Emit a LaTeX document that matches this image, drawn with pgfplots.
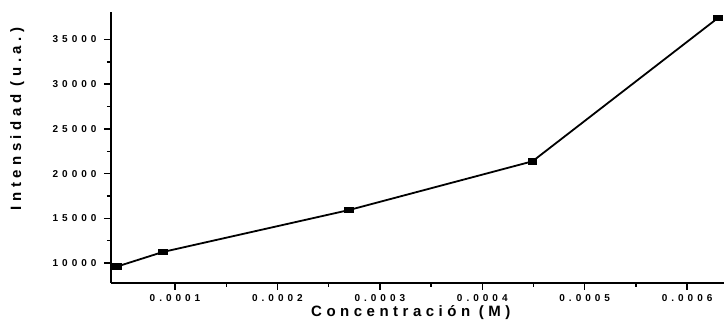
\documentclass[border=0pt]{standalone}
\usepackage{pgfplots}
\pgfplotsset{compat=1.18}
\usepackage{fontspec}
\setmainfont{Liberation Sans}
\newfontfamily\tickfont[LetterSpace=40]{Liberation Sans}
\newfontfamily\labfont[LetterSpace=30]{Liberation Sans}
\begin{document}
\begin{tikzpicture}
\begin{axis}[
  at={(0,0)}, anchor=south west,
  scale only axis, width=613bp, height=270.7bp,
  xmin=0.0000375, xmax=0.000636,
  ymin=7800, ymax=38075,
  axis x line=bottom, axis y line=left,
  axis line style={-, line width=2bp, black},
  xtick={0.0001,0.0002,0.0003,0.0004,0.0005,0.0006},
  xticklabels={0.0001,0.0002,0.0003,0.0004,0.0005,0.0006},
  ytick={10000,15000,20000,25000,30000,35000},
  yticklabels={10000,15000,20000,25000,30000,35000},
  scaled x ticks=false, scaled y ticks=false,
  minor x tick num=1, minor y tick num=1,
  tick align=outside,
  major tick length=7bp, minor tick length=4bp,
  tick style={line width=1.4bp, black},
  ticklabel style={font=\tickfont\bfseries\fontsize{10bp}{12bp}\selectfont, black},
  xticklabel style={yshift=-1bp},
  yticklabel style={xshift=-4bp},
  xlabel={Concentración (M)},
  ylabel={Intensidad (u.a.)},
  label style={font=\labfont\bfseries\fontsize{15bp}{17bp}\selectfont},
  xlabel style={at={(axis description cs:0.489,-0.11)}, anchor=center},
  ylabel style={at={(axis description cs:-0.153,0.605)}, anchor=center, rotate=0},
  clip=false,
]
\addplot[black, line width=1.8bp, mark=square*, mark size=4bp,
  every mark/.append style={yscale=0.6, solid}]
  coordinates {
    (0.000043, 9590)
    (0.000088, 11230)
    (0.000270, 15930)
    (0.000449, 21376)
    (0.000630, 37400)
  };
\end{axis}
\pgfresetboundingbox
\path[use as bounding box] (-111bp,-42.3bp) rectangle (613bp,282.7bp);
\end{tikzpicture}
\end{document}
